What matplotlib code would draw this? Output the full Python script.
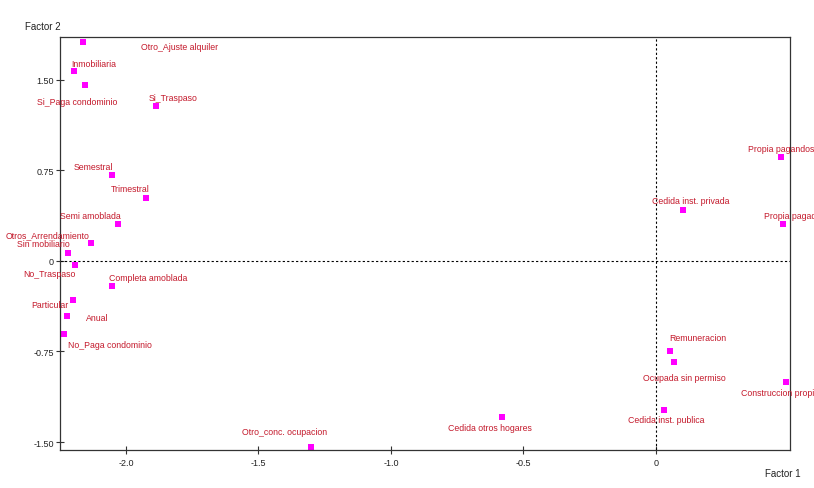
import matplotlib
matplotlib.use("Agg")
import matplotlib.pyplot as plt

# Coordenadas de las categorias (Factor 1, Factor 2)
labels = [
    "Otro_Ajuste alquiler", "Inmobiliaria", "Si_Paga condominio", "Si_Traspaso",
    "Semestral", "Trimestral", "Semi amoblada", "Otros_Arrendamiento",
    "Sin mobiliario", "No_Traspaso", "Completa amoblada", "Particular",
    "Anual", "No_Paga condominio", "Otro_conc. ocupacion", "Cedida otros hogares",
    "Cedida inst. privada", "Propia pagandose", "Propia pagada", "Remuneracion",
    "Ocupada sin permiso", "Construccion propia", "Cedida inst. publica",
]
factor1 = [-2.162, -2.196, -2.155, -1.887, -2.053, -1.925, -2.030, -2.132,
           -2.219, -2.192, -2.053, -2.200, -2.223, -2.234, -1.302, -0.581,
           0.102, 0.472, 0.479, 0.053, 0.068, 0.491, 0.030]
factor2 = [1.812, 1.573, 1.457, 1.284, 0.713, 0.523, 0.308, 0.151,
           0.069, -0.031, -0.204, -0.320, -0.452, -0.609, -1.543, -1.295,
           0.424, 0.862, 0.308, -0.750, -0.840, -1.006, -1.237]

xticks = [-2.0, -1.5, -1.0, -0.5, 0]
xticklabels = ["-2.0", "-1.5", "-1.0", "-0.5", "0"]
yticks = [-1.5, -0.75, 0, 0.75, 1.5]
yticklabels = ["-1.50", "-0.75", "0", "0.75", "1.50"]

# desplazamiento de cada etiqueta respecto a su punto (pixeles)
offsets = [(97, -4), (20, 8), (-8, -16), (17, 8), (-19, 8), (-16, 9), (-28, 8),
           (-43, 8), (-25, 9), (-26, -9), (36, 8), (-23, -5), (30, -2), (46, -10),
           (-26, 16), (-12, -10), (8, 9), (3, 8), (10, 8), (28, 14), (10, -15),
           (-6, -10), (2, -9)]

plt.rcParams['font.family'] = ['Liberation Sans', 'DejaVu Sans']

fig = plt.figure(figsize=(8.14, 4.89), dpi=100)
ax = fig.add_axes([60 / 814, 38 / 489, 730 / 814, 413 / 489])

ax.axhline(0, color='black', lw=0.8, ls=(0, (2, 2)))
ax.axvline(0, color='black', lw=0.8, ls=(0, (2, 2)))

ax.plot(factor1, factor2, 's', color='#ff00ff', markersize=4.2, markeredgewidth=0)

for name, x, y, (dx, dy) in zip(labels, factor1, factor2, offsets):
    ax.annotate(name, (x, y), xytext=(dx * 0.72, dy * 0.72), textcoords='offset points',
                ha='center', va='center', fontsize=6.3, color='#c41a2c',
                annotation_clip=False)

ax.set_xlim(-2.249, 0.506)
ax.set_ylim(-1.566, 1.855)
ax.set_xticks(xticks)
ax.set_xticklabels(xticklabels)
ax.set_yticks(yticks)
ax.set_yticklabels(yticklabels)
ax.tick_params(direction='inout', length=6, width=0.8, colors='#333333',
               labelsize=6.5, labelcolor='#222222')
ax.tick_params(axis='x', pad=2.5)
ax.tick_params(axis='y', pad=1.5)
for s in ax.spines.values():
    s.set_color('#333333')
    s.set_linewidth(0.9)

fig.text(25 / 814, 1 - 27 / 489, "Factor 2", fontsize=7, color='#222222', va='center')
fig.text(765 / 814, 1 - 474 / 489, "Factor 1", fontsize=7, color='#222222', va='center')

fig.savefig("out.png", dpi=100)
